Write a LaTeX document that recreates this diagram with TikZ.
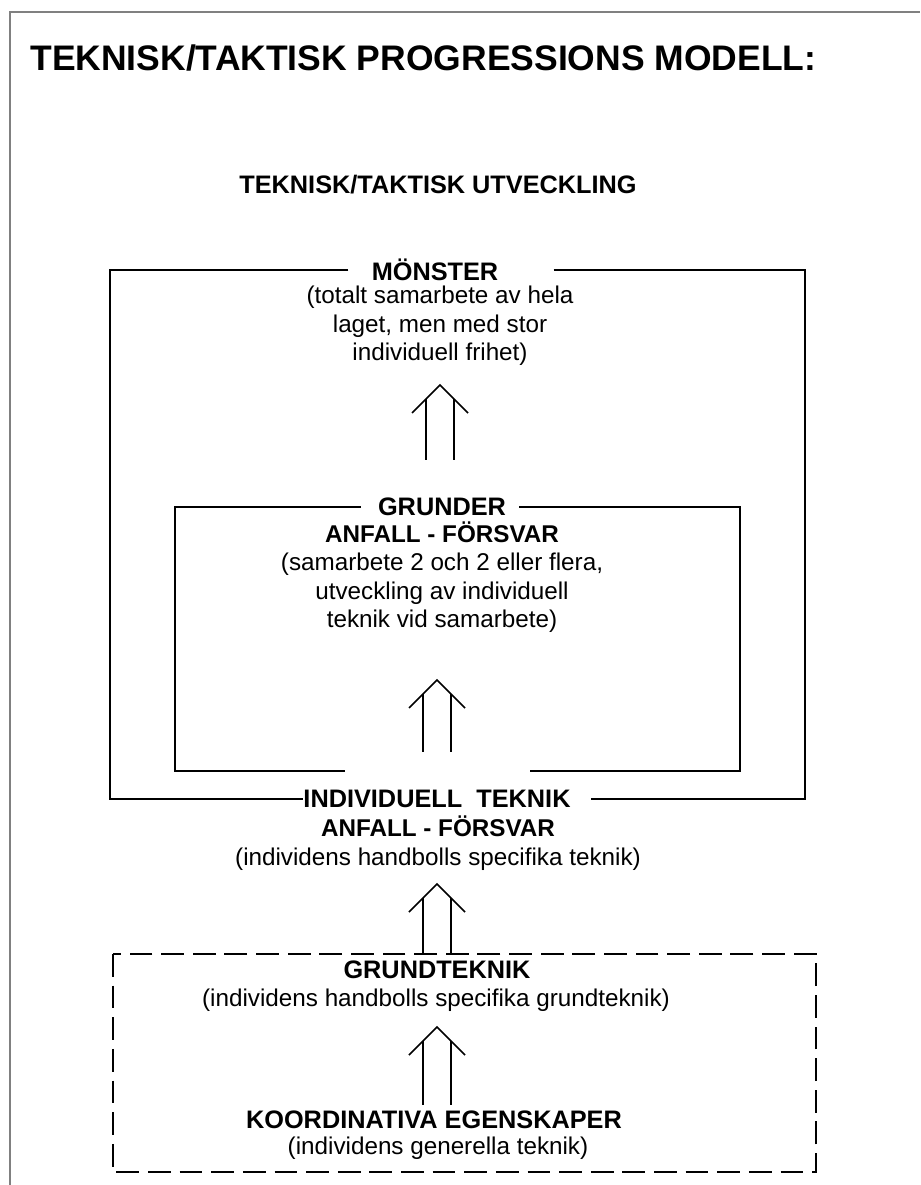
\documentclass[tikz,border=0pt]{standalone}
\usepackage{fontspec}
\setmainfont{Liberation Sans}
\usetikzlibrary{positioning,calc}

\tikzset{
  headtext/.style={font=\fontsize{14.4}{16.2}\selectfont\bfseries, inner sep=0pt},
  notetext/.style={font=\fontsize{13.8}{16.2}\selectfont, align=center, inner sep=0pt},
  frameline/.style={line width=1.1pt},
  dashline/.style={line width=1.1pt, dash pattern=on 13pt off 5pt},
  uparrow/.style={line width=0.9pt},
}

\begin{document}
\begin{tikzpicture}[x=0.02cm,y=-0.02cm]
\useasboundingbox (0,0) rectangle (920,1185);
\draw[gray, line width=0.8pt] (10,1185) -- (10,12) -- (920,12);

\node[anchor=west, inner sep=0pt, font=\fontsize{20.2}{24}\selectfont\bfseries] (title) at (30,58) {TEKNISK/TAKTISK PROGRESSIONS MODELL:};
\node[headtext] (sub) at (438,185) {TEKNISK/TAKTISK UTVECKLING};

% top level
\node[headtext] (mon) at (435,270) {MÖNSTER};
\node[notetext] (mondesc) at (440,326) {(totalt samarbete av hela\\laget, men med stor\\individuell frihet)};

% middle level
\node[headtext] (grund) at (442,507) {GRUNDER};
\node[notetext] (grunddesc) at (442,577) {\textbf{ANFALL - FÖRSVAR}\\(samarbete 2 och 2 eller flera,\\utveckling av individuell\\teknik vid samarbete)};

% individual level
\node[headtext] (indiv) at (437,799) {INDIVIDUELL\ \ TEKNIK};
\node[notetext] (indivdesc) at (438,843) {\textbf{ANFALL - FÖRSVAR}\\(individens handbolls specifika teknik)};

% base level
\node[headtext] (gtek) at (437,970) {GRUNDTEKNIK};
\node[notetext] (gtekdesc) at (436,1000) {(individens handbolls specifika grundteknik)};
\node[headtext] (koord) at (434,1120) {KOORDINATIVA EGENSKAPER};
\node[notetext] (koorddesc) at (438,1148) {(individens generella teknik)};

% frames
\coordinate (oTL) at (110,270);
\coordinate (oTR) at (805,270);
\coordinate (iTL) at (175,507);
\coordinate (iTR) at (740,507);
\draw[frameline] ($(mon.west)+(-23,0)$) -- (oTL) |- (indiv.west);
\draw[frameline] ($(mon.east)+(55,0)$) -- (oTR) |- ($(indiv.east)+(20,0)$);
\draw[frameline] ($(grund.west)+(-17,0)$) -- (iTL) -- (175,771) -- (345,771);
\draw[frameline] ($(grund.east)+(13,0)$) -- (iTR) -- (740,771) -- (530,771);
\draw[dashline] (113,954) rectangle (816,1172);

% double arrows
\foreach \n/\x/\yt/\yb in {1/440/385/460, 2/437/680/752, 3/437/884/953, 4/437/1027/1105}{
  \coordinate (tip\n) at (\x,\yt);
  \coordinate (foot\n) at (\x,\yb);
  \draw[uparrow] ($(tip\n)+(-28,28)$) -- (tip\n) -- ($(tip\n)+(28,28)$);
  \draw[uparrow] ($(tip\n)+(-14,14)$) -- ($(foot\n)+(-14,0)$);
  \draw[uparrow] ($(tip\n)+(14,14)$) -- ($(foot\n)+(14,0)$);
}
\end{tikzpicture}
\end{document}
